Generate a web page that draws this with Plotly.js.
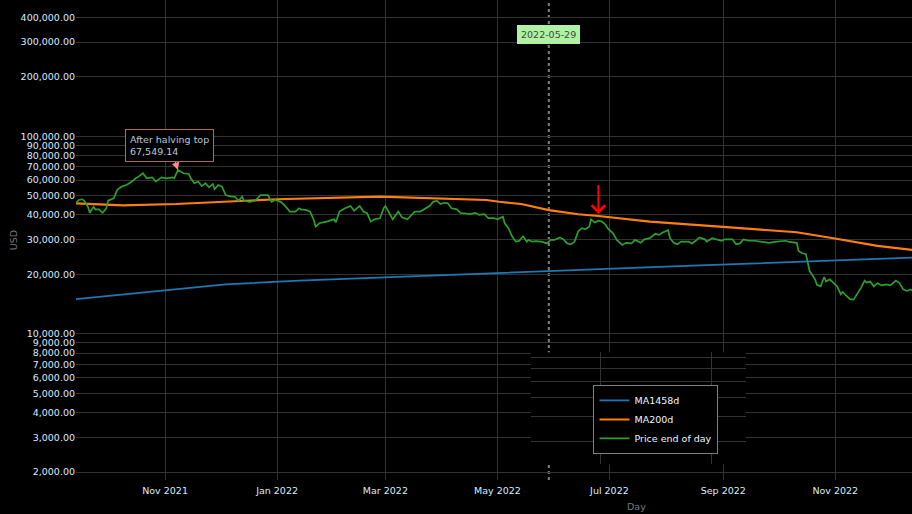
<!DOCTYPE html>
<html>
<head>
<meta charset="utf-8">
<script src="https://cdn.plot.ly/plotly-3.0.1.min.js"></script>
<style>
html,body{margin:0;padding:0;background:#000;overflow:hidden;}
#chart{width:912px;height:514px;}
</style>
</head>
<body>
<div id="chart"></div>
<script>
// ---- Data ----
const priceDates = [
'2021-09-13','2021-09-15','2021-09-17','2021-09-18','2021-09-20','2021-09-21','2021-09-23','2021-09-24','2021-09-26','2021-09-28',
'2021-09-30','2021-10-01','2021-10-04','2021-10-06','2021-10-07','2021-10-09','2021-10-11','2021-10-14','2021-10-16','2021-10-17',
'2021-10-20','2021-10-22','2021-10-25','2021-10-27','2021-10-30','2021-11-02','2021-11-05','2021-11-06','2021-11-08','2021-11-11',
'2021-11-14','2021-11-15','2021-11-17','2021-11-19','2021-11-21','2021-11-23','2021-11-25','2021-11-27','2021-11-28','2021-11-30',
'2021-12-02','2021-12-04','2021-12-07','2021-12-09','2021-12-11','2021-12-13','2021-12-14','2021-12-17','2021-12-20','2021-12-23',
'2021-12-27','2021-12-29','2021-12-31','2022-01-03','2022-01-05','2022-01-08','2022-01-11','2022-01-13','2022-01-14','2022-01-17',
'2022-01-19','2022-01-21','2022-01-22','2022-01-24','2022-01-28','2022-02-01','2022-02-02','2022-02-04','2022-02-07','2022-02-10',
'2022-02-12','2022-02-15','2022-02-17','2022-02-19','2022-02-21','2022-02-23','2022-02-26','2022-02-28','2022-03-01','2022-03-03',
'2022-03-05','2022-03-08','2022-03-10','2022-03-13','2022-03-15','2022-03-17','2022-03-20','2022-03-23','2022-03-25','2022-03-27',
'2022-03-29','2022-03-31','2022-04-02','2022-04-04','2022-04-06','2022-04-09','2022-04-11','2022-04-13','2022-04-16','2022-04-19',
'2022-04-21','2022-04-24','2022-04-26','2022-04-29','2022-05-01','2022-05-04','2022-05-05','2022-05-07','2022-05-09','2022-05-11',
'2022-05-13','2022-05-14','2022-05-15','2022-05-17','2022-05-18','2022-05-20','2022-05-22','2022-05-25','2022-05-28','2022-05-30',
'2022-06-01','2022-06-04','2022-06-06','2022-06-08','2022-06-10','2022-06-12','2022-06-14','2022-06-16','2022-06-18','2022-06-20',
'2022-06-21','2022-06-23','2022-06-25','2022-06-27','2022-06-29','2022-06-30','2022-07-03','2022-07-05','2022-07-08','2022-07-10',
'2022-07-13','2022-07-15','2022-07-18','2022-07-20','2022-07-23','2022-07-26','2022-07-28','2022-07-30','2022-08-02','2022-08-03',
'2022-08-05','2022-08-07','2022-08-09','2022-08-13','2022-08-15','2022-08-17','2022-08-19','2022-08-22','2022-08-23','2022-08-26',
'2022-08-29','2022-08-31','2022-09-02','2022-09-06','2022-09-08','2022-09-10','2022-09-12','2022-09-15','2022-09-18','2022-09-21',
'2022-09-26','2022-09-29','2022-10-03','2022-10-05','2022-10-07','2022-10-11','2022-10-12','2022-10-14','2022-10-16','2022-10-17',
'2022-10-18','2022-10-19','2022-10-21','2022-10-22','2022-10-24','2022-10-26','2022-10-27','2022-10-29','2022-10-31','2022-11-02',
'2022-11-04','2022-11-05','2022-11-07','2022-11-09','2022-11-11','2022-11-13','2022-11-15','2022-11-17','2022-11-18','2022-11-20',
'2022-11-22','2022-11-24','2022-11-26','2022-11-29','2022-12-01','2022-12-04','2022-12-06','2022-12-08','2022-12-10','2022-12-12',
'2022-12-13'
];
const priceValues = [
45500,47600,48000,47200,44000,41000,44000,42700,42700,41000,
43200,47200,48500,53600,54600,56000,56700,59000,61300,62000,
65000,61300,62000,59000,62000,61300,62000,61300,67549.14,65000,
64500,61300,57900,59000,56000,57900,55200,57400,54000,56700,
55600,50400,49500,49500,47200,49500,47200,46600,47200,50400,
50400,46600,47600,46600,44800,41600,41600,43200,42700,42300,
41600,37700,34900,36300,37000,38000,36700,41600,43200,44400,
42000,44400,41600,40800,37000,38000,38500,43200,44400,40800,
38000,41600,38900,38000,40000,41600,41600,43200,44400,46600,
47200,45400,46100,45800,43200,42700,40800,40800,40400,41000,
40000,40400,38500,38500,38000,39200,36300,34300,31200,29300,
29600,30500,31200,29300,29900,29300,29500,29300,28700,29900,
29900,30800,30100,28700,28400,29300,33000,34300,33900,34900,
38000,36600,37400,37000,35600,34300,32300,29900,28200,28900,
28700,29900,28900,30100,30500,32100,31700,32600,33500,30500,
28900,28400,29300,29300,28700,29600,30800,30100,29300,30500,
30100,29600,30100,30100,28400,28700,30100,29600,29600,29400,
28900,29200,29300,29600,29200,28900,26300,25600,25400,22600,
20800,20200,18900,17700,17400,19400,18400,18900,18100,17400,
15900,16300,15600,15000,14900,15900,17100,18600,18200,18400,
17400,18100,17600,17800,17600,18600,18100,16800,16500,16800,
16600
];

const ma200Dates = ['2021-09-13','2021-10-09','2021-11-07','2022-01-01','2022-02-26','2022-03-26','2022-04-25','2022-05-02','2022-05-14','2022-05-29','2022-06-14','2022-06-25','2022-07-23','2022-08-30','2022-10-11','2022-10-31','2022-11-24','2022-12-13'];
const ma200Values = [45800,44700,45400,48000,49500,48500,47600,46600,45400,42300,40300,39500,37000,34900,32700,30500,27900,26600];

const ma1458Dates = ['2021-09-13','2021-12-04','2022-01-13','2022-05-02','2022-08-19','2022-12-13'];
const ma1458Values = [14970,17800,18600,20400,22200,24300];

const seriesNames = ['MA1458d','MA200d','Price end of day'];
const yTickValues = [2000,3000,4000,5000,6000,7000,8000,9000,10000,20000,30000,40000,50000,60000,70000,80000,90000,100000,200000,300000,400000];
const monthTicks = ['2021-11-01','2022-01-01','2022-03-01','2022-05-01','2022-07-01','2022-09-01','2022-11-01'];

const markerDate = '2022-05-29';
const topLabel = 'After halving top';
const topDate = '2021-11-08';
const topValue = 67549.14;
const pointerDate = '2022-06-25';
const pointerValue = 40400;

// ---- Traces ----
const traces = [
  {x: ma1458Dates, y: ma1458Values, name: seriesNames[0], type: 'scatter', mode: 'lines',
   line: {color: '#1f77b4', width: 1.7}},
  {x: ma200Dates, y: ma200Values, name: seriesNames[1], type: 'scatter', mode: 'lines',
   line: {color: '#ff7f0e', width: 2.1}},
  {x: priceDates, y: priceValues, name: seriesNames[2], type: 'scatter', mode: 'lines',
   line: {color: '#2ca02c', width: 1.7}},
  {x: [], y: [], xaxis: 'x2', yaxis: 'y2', type: 'scatter', mode: 'lines', showlegend: false, hoverinfo: 'skip'}
];

const fmt = v => v.toLocaleString('en-US', {minimumFractionDigits: 2, maximumFractionDigits: 2});

const gridCol = '#333333';
const layout = {
  width: 912, height: 514,
  paper_bgcolor: '#000', plot_bgcolor: '#000',
  margin: {l: 76, r: 0, t: 0, b: 34, pad: 0},
  font: {family: 'DejaVu Sans, Verdana, sans-serif', size: 9.5, color: '#d8ecff'},
  showlegend: true,
  legend: {x: 0.619, y: 0.198, xanchor: 'left', yanchor: 'top', bgcolor: '#000',
           bordercolor: '#808080', borderwidth: 1, font: {color: '#eef6ff', size: 9.5}},
  xaxis: {type: 'date', range: ['2021-09-13 12:00', '2022-12-12 19:00'], tickvals: monthTicks,
          tickformat: '%b %Y', gridcolor: gridCol, zeroline: false, showline: false, ticks: '',
          ticklabelstandoff: 3},
  yaxis: {type: 'log', range: [3.2606, 5.6898], tickvals: yTickValues, tickformat: ',.2f',
          gridcolor: gridCol, zeroline: false, showline: false, ticks: '',
          title: {text: 'USD', font: {color: '#7a7a7a', size: 9.5}, standoff: 1}},
  xaxis2: {type: 'date', anchor: 'y2', domain: [0.544, 0.801], range: ['2022-05-23 10:00', '2022-09-20 00:00'],
           tickvals: monthTicks, showticklabels: false, gridcolor: gridCol, zeroline: false, showline: false, ticks: ''},
  yaxis2: {type: 'log', anchor: 'x2', domain: [0.0327, 0.266], range: [3.3604, 3.927],
           tickvals: yTickValues, showticklabels: false, gridcolor: gridCol, zeroline: false, showline: false, ticks: ''},
  shapes: [
    {type: 'line', xref: 'x', yref: 'paper', x0: markerDate, x1: markerDate, y0: 0, y1: 1,
     line: {color: '#808080', width: 2, dash: 'dot'}, layer: 'below'}
  ],
  annotations: [
    {x: topDate, y: Math.log10(topValue), xref: 'x', yref: 'y',
     text: topLabel + '<br>' + fmt(topValue), showarrow: true, arrowhead: 2, arrowsize: 1.5, arrowwidth: 1,
     arrowcolor: '#ff8c8c', ax: -8, ay: -24, align: 'left', bgcolor: '#000', bordercolor: '#b46464',
     borderwidth: 1, borderpad: 4, font: {color: '#b8c8dc', size: 9.5}},
    {x: markerDate, y: 0.928, xref: 'x', yref: 'paper', xanchor: 'center', yanchor: 'middle',
     text: markerDate, showarrow: false,
     bgcolor: '#aef2a2', bordercolor: '#aef2a2', borderwidth: 1, borderpad: 3, font: {color: '#444', size: 9.5}},
    {x: pointerDate, y: Math.log10(pointerValue), xref: 'x', yref: 'y', text: ' ', showarrow: true,
     arrowhead: 4, arrowsize: 1.3, arrowwidth: 2, arrowcolor: '#ff0000', ax: 0, ay: -36},
    {x: 0.671, y: -0.056, xref: 'paper', yref: 'paper', text: 'Day', showarrow: false,
     xanchor: 'center', yanchor: 'middle', font: {color: '#7a7a7a', size: 9.5}}
  ]
};

Plotly.newPlot('chart', traces, layout, {displayModeBar: false, staticPlot: true});
</script>
</body>
</html>
